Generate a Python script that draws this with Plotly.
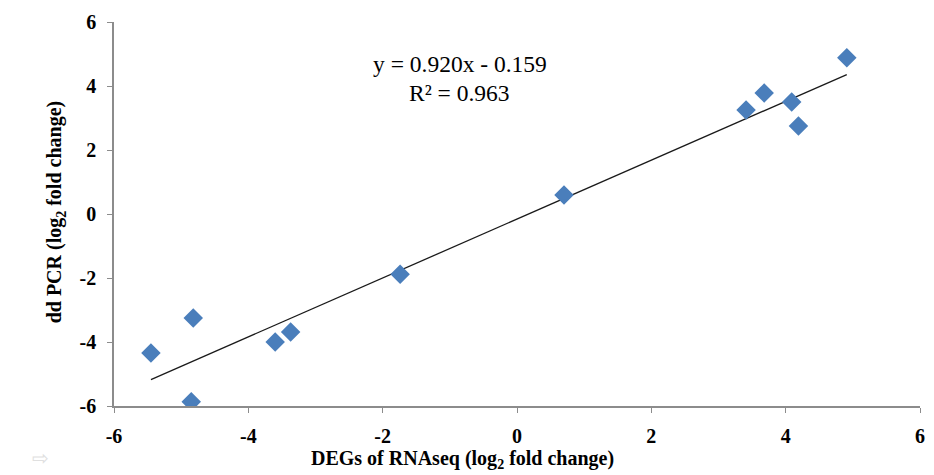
import plotly.graph_objects as go

rnaseq = [-5.45, -4.82, -4.85, -3.60, -3.37, -1.74, 0.70, 3.41, 3.68, 4.09, 4.19, 4.91]
ddpcr = [-4.34, -3.25, -5.87, -4.00, -3.69, -1.88, 0.59, 3.25, 3.78, 3.50, 2.75, 4.88]
slope = 0.920
intercept = -0.159
r2 = 0.963
ticks = [-6, -4, -2, 0, 2, 4, 6]

xmin, xmax = min(rnaseq), max(rnaseq)

L, R, T, B = 114, 9, 22, 69
W, H = 934, 475
pw = W - L - R
ph = H - T - B


def px(x):
    return (x - L) / pw


def py(y):
    return 1 - (y - T) / ph


fig = go.Figure()
fig.add_trace(go.Scatter(
    x=[xmin, xmax], y=[slope * xmin + intercept, slope * xmax + intercept],
    mode="lines", line=dict(color="#1a1a1a", width=1.3), hoverinfo="skip", showlegend=False))
fig.add_trace(go.Scatter(
    x=rnaseq, y=ddpcr, mode="markers",
    marker=dict(symbol="diamond", size=15, color="#4a7ebb", line=dict(width=0)),
    showlegend=False))

font_serif = "Liberation Serif, Times New Roman, serif"
axis_common = dict(
    range=[-6, 6], tickvals=ticks, ticktext=[f"<b>{t}</b>" for t in ticks],
    showgrid=False, zeroline=False, showline=True, linecolor="#8c8c8c", linewidth=1.5,
    ticks="outside", ticklen=5, tickcolor="#8c8c8c", tickwidth=1,
    tickfont=dict(family=font_serif, size=20, color="black"))

fig.update_layout(
    width=W, height=H,
    margin=dict(l=L, r=R, t=T, b=B),
    paper_bgcolor="white", plot_bgcolor="white",
    xaxis=dict(**axis_common, ticklabelstandoff=6),
    yaxis=dict(**axis_common, ticklabelstandoff=7),
)

fig.add_annotation(x=px(465), y=py(459), xref="paper", yref="paper",
                   text="<b>DEGs of RNAseq (log<sub>2</sub> fold change)</b>",
                   showarrow=False, xanchor="center", yanchor="middle",
                   font=dict(family=font_serif, size=20, color="black"))
fig.add_annotation(x=px(55), y=py(212), xref="paper", yref="paper",
                   text="<b>dd PCR (log<sub>2</sub> fold change)</b>", textangle=-90,
                   showarrow=False, xanchor="center", yanchor="middle",
                   font=dict(family=font_serif, size=20, color="black"))
fig.add_annotation(x=px(462), y=py(64), xref="paper", yref="paper",
                   text=f"y = {slope:.3f}x - {abs(intercept):.3f}",
                   showarrow=False, xanchor="center", yanchor="middle",
                   font=dict(family=font_serif, size=23.5, color="black"))
fig.add_annotation(x=px(462), y=py(93), xref="paper", yref="paper",
                   text=f"R² = {r2:.3f}",
                   showarrow=False, xanchor="center", yanchor="middle",
                   font=dict(family=font_serif, size=23.5, color="black"))
fig.add_annotation(x=px(40), y=py(457), xref="paper", yref="paper", text="⇨", showarrow=False,
                   xanchor="center", yanchor="middle",
                   font=dict(size=20, color="#e0e0e0"))

fig.write_html("out.html")
